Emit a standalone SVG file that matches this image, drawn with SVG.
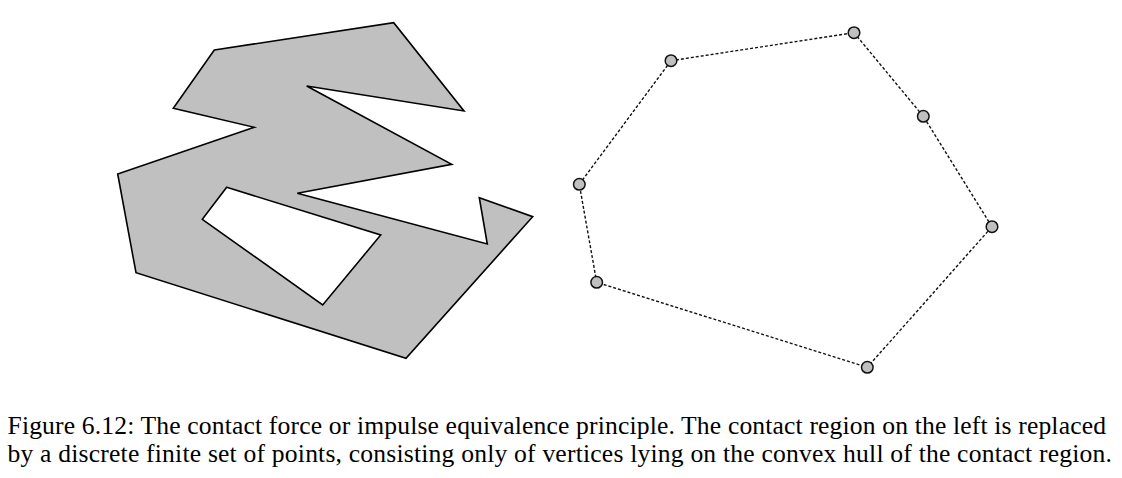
<svg xmlns="http://www.w3.org/2000/svg" width="1122" height="478" viewBox="0 0 1122 478">
<style>
.region{fill:#c0c0c0;stroke:#000;stroke-width:1.6;stroke-linejoin:miter;fill-rule:evenodd}
.hull{fill:none;stroke:#111;stroke-width:1.4;stroke-dasharray:3 2}
.pt{fill:#c0c0c0;stroke:#111;stroke-width:1.5}
.cap{font-family:'Liberation Serif','Times New Roman',serif;font-size:25.6px;fill:#000}
</style>
<rect width="1122" height="478" fill="#fff"/>
<g id="contact-region">
<path class="region" d="M214.3,50 L393.7,22.7 L464,111 L306.7,86 L451.7,164.3 L297.3,193.3 L487.3,244 L479.3,197.7 L532.7,216.7 L406,358.3 L136,272.7 L117.7,174 L254.3,127.3 L173.3,108.3 Z M226.7,187.3 L380.7,235 L322.7,305 L202.3,219.3 Z"/>
</g>
<g id="connectors">
<polygon class="hull" points="671,60.7 854,32.7 923.3,116.3 992,226.7 867.3,367.3 596.7,282.3 579.3,184.3"/>
</g>
<g id="p1"><circle class="pt" cx="671" cy="60.7" r="5.8"/></g>
<g id="p2"><circle class="pt" cx="854" cy="32.7" r="5.8"/></g>
<g id="p3"><circle class="pt" cx="923.3" cy="116.3" r="5.8"/></g>
<g id="p4"><circle class="pt" cx="992" cy="226.7" r="5.8"/></g>
<g id="p5"><circle class="pt" cx="867.3" cy="367.3" r="5.8"/></g>
<g id="p6"><circle class="pt" cx="596.7" cy="282.3" r="5.8"/></g>
<g id="p7"><circle class="pt" cx="579.3" cy="184.3" r="5.8"/></g>
<g id="caption">
<text class="cap" x="7.5" y="433.5" textLength="1098.5" lengthAdjust="spacing">Figure 6.12: The contact force or impulse equivalence principle. The contact region on the left is replaced</text>
<text class="cap" x="7.5" y="461.5" textLength="1104.5" lengthAdjust="spacing">by a discrete finite set of points, consisting only of vertices lying on the convex hull of the contact region.</text>
</g>
</svg>
